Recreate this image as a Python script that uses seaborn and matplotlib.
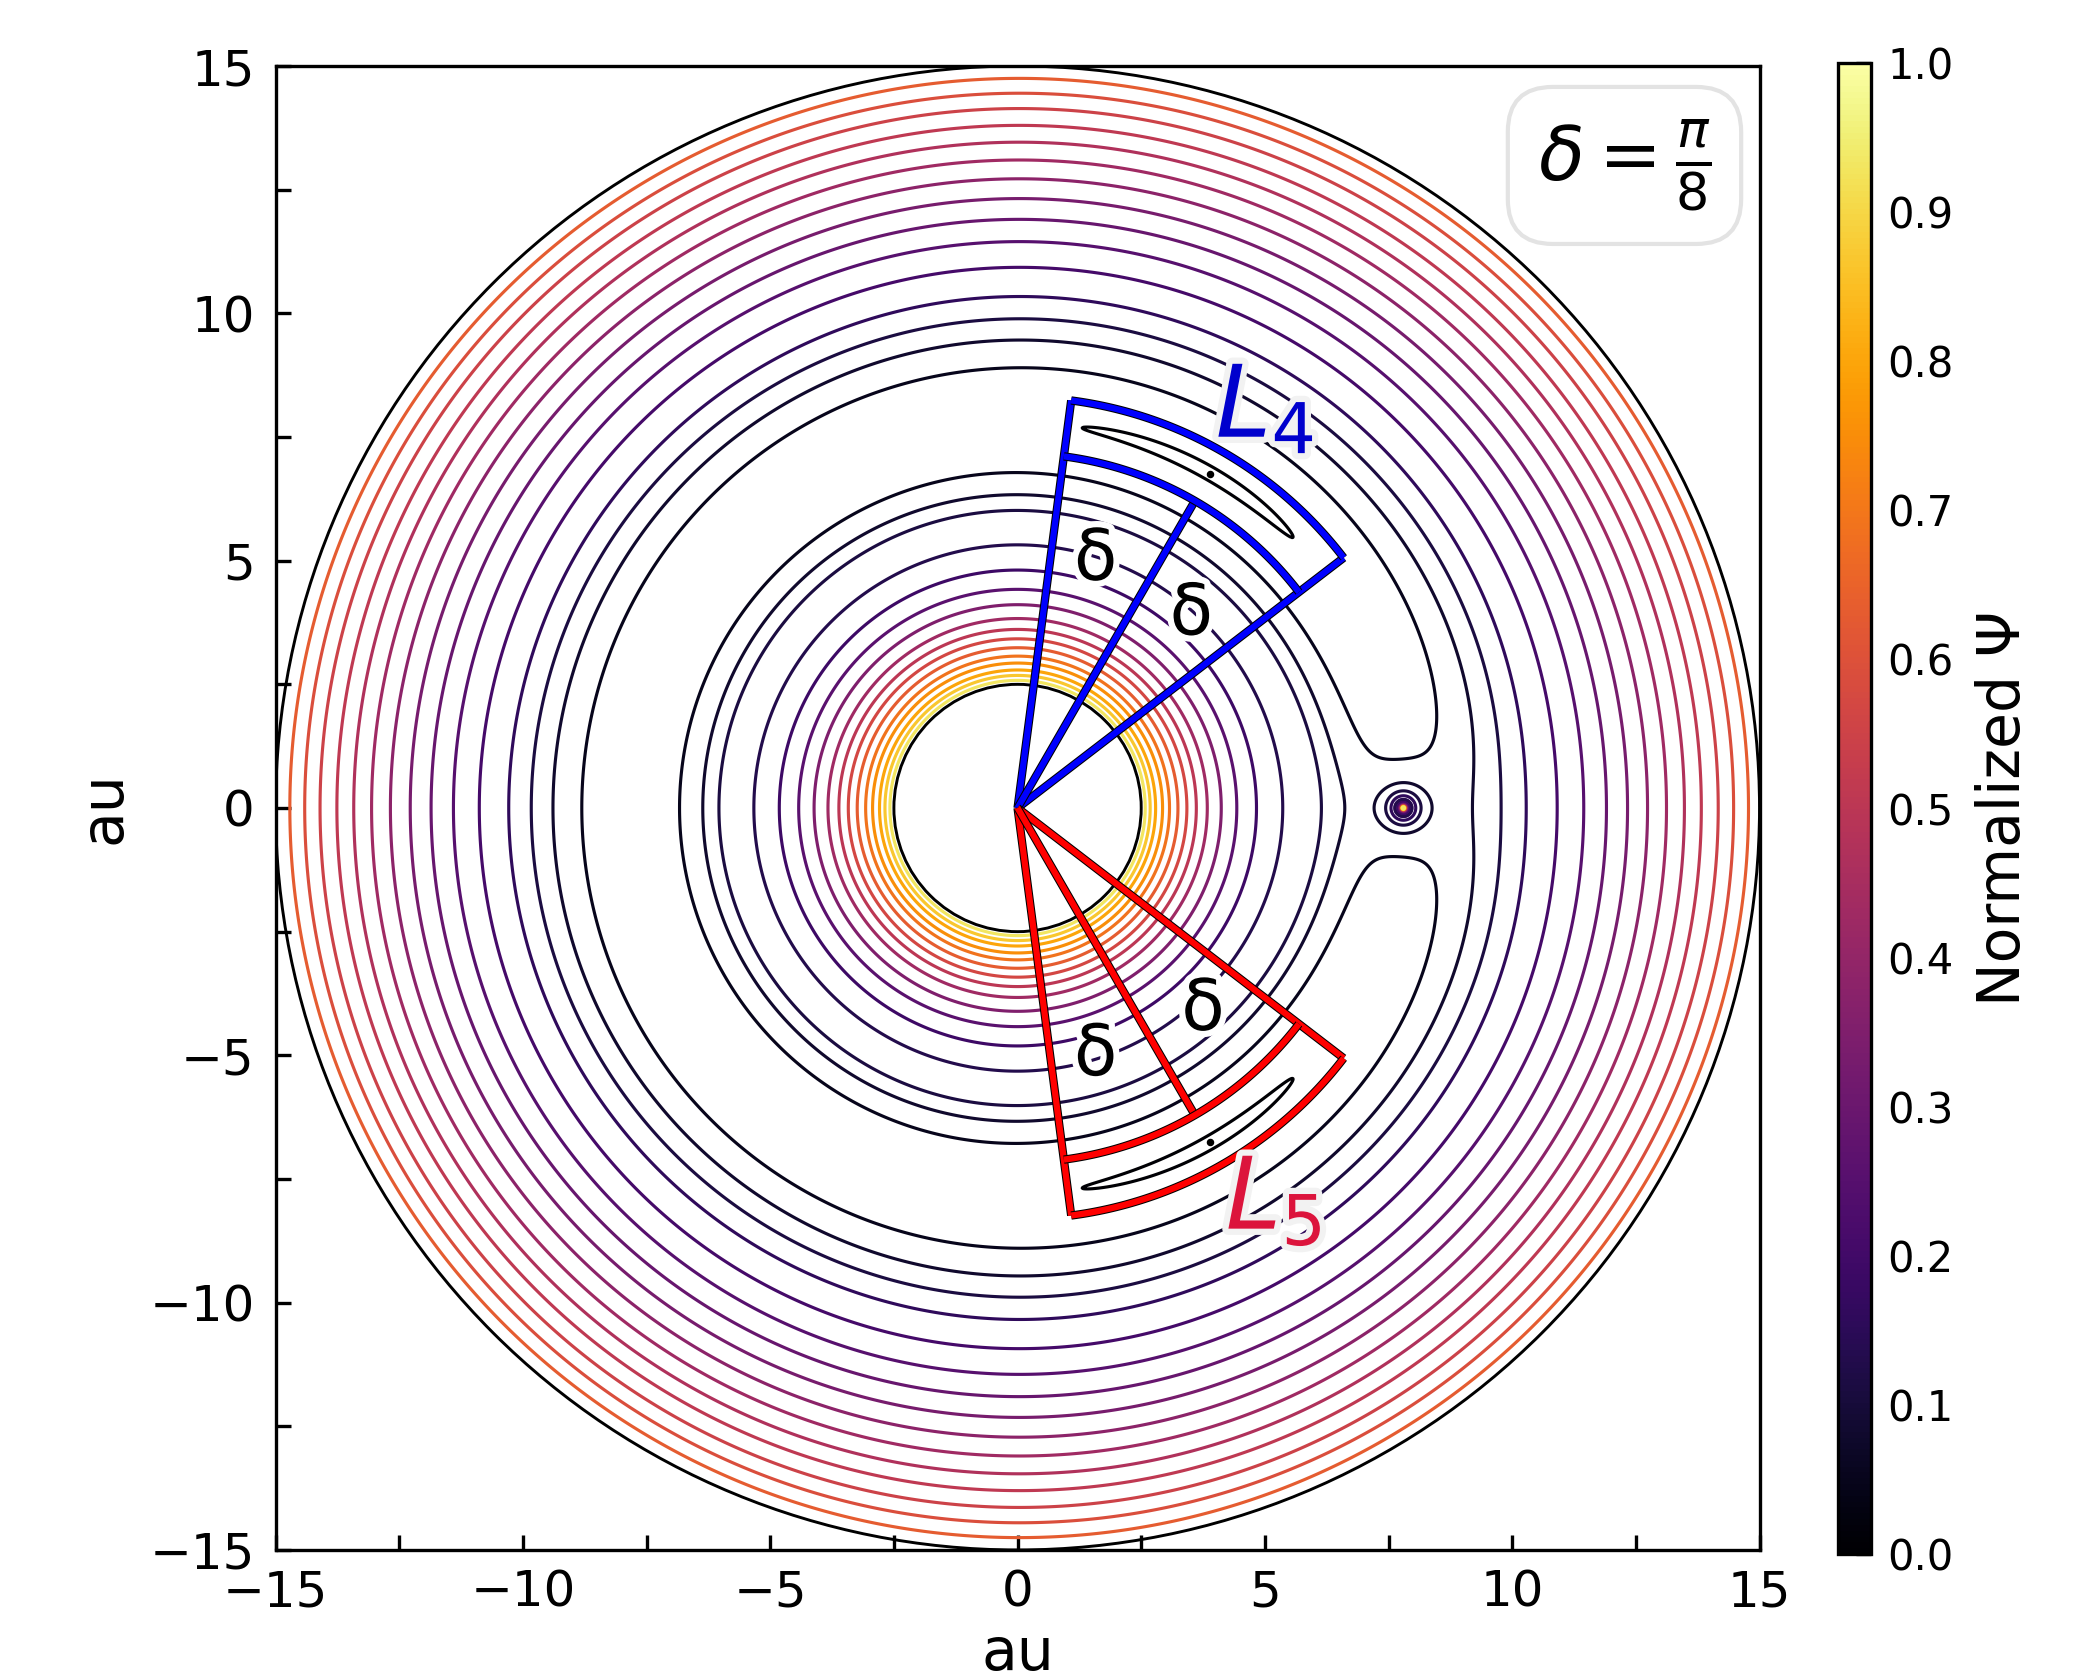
import numpy as np
import matplotlib
matplotlib.use("Agg")
import matplotlib.pyplot as plt
import matplotlib.patheffects as pe
from matplotlib.patches import Circle
from matplotlib.colors import Normalize
from matplotlib.cm import ScalarMappable
import seaborn as sns

# ---- system (au, GM_star = 1) ----
a_planet = 7.8
q_planet = 4.5e-3
r_in_edge = 2.5
r_out_edge = 15.0

# radii where the contours cross the +y axis and their colour
shared_radii = [8.90, 9.46, 9.89]
shared_shade = [0.05, 0.08, 0.11]
outer_radii = [10.34, 10.93, 11.45, 11.90, 12.32, 12.72, 13.10, 13.46, 13.80, 14.14, 14.45, 14.75]
outer_shade = [0.16, 0.21, 0.25, 0.29, 0.33, 0.38, 0.43, 0.47, 0.51, 0.55, 0.59, 0.63]
inner_radii = [5.32, 4.81, 4.42, 4.11, 3.83, 3.61, 3.42, 3.24, 3.07, 2.93, 2.79, 2.68, 2.58]
inner_shade = [0.13, 0.19, 0.26, 0.35, 0.43, 0.50, 0.57, 0.63, 0.69, 0.75, 0.80, 0.87, 0.93]
tadpole_tip_deg = 44.5

# ---- Lagrange wedges ----
lagrange_names = [r'$L_4$', r'$L_5$']
lagrange_deg = [60.0, -60.0]
wedge_colors = ['#0000ff', '#ff0000']
label_colors = ['#0000cd', '#dc143c']
label_xy = [(5.0, 8.06), (5.18, -7.95)]
delta = np.pi / 8
wedge_r = [7.17, 8.31]
delta_r = [[5.25, 5.25], [5.25, 5.55]]
delta_deg = [[72.5, 48.0], [-72.5, -47.5]]

cbar_ticks = [0.0, 0.1, 0.2, 0.3, 0.4, 0.5, 0.6, 0.7, 0.8, 0.9, 1.0]
ax_ticks = [-15, -10, -5, 0, 5, 10, 15]


def psi(x, y):
    x_cm = q_planet * a_planet / (1 + q_planet)
    om2 = (1 + q_planet) / a_planet**3
    r = np.maximum(np.hypot(x, y), 1e-4)
    d = np.maximum(np.hypot(x - a_planet, y), 1e-4)
    return 1 / r + q_planet / d + 0.5 * om2 * ((x - x_cm)**2 + y**2)


sns.set_theme(style="white", rc={
    "axes.edgecolor": "black", "text.color": "black", "axes.labelcolor": "black",
    "xtick.color": "black", "ytick.color": "black", "axes.linewidth": 0.8,
})
plt.rcParams['font.family'] = ['DejaVu Sans']
plt.rcParams['mathtext.fontset'] = 'dejavusans'
cmap = sns.color_palette("inferno", as_cmap=True)

fig = plt.figure(figsize=(7, 5.6), dpi=300)
ax = fig.add_axes([0.131, 0.0774, 0.7071, 0.8833])
cax = fig.add_axes([0.8752, 0.075, 0.0157, 0.8875])

g = np.linspace(-15, 15, 2400)
X, Y = np.meshgrid(g, g)
R = np.hypot(X, Y)
D = np.hypot(X - a_planet, Y)
P = psi(X, Y)
domain = (R >= r_in_edge) & (R <= r_out_edge)

tip = np.deg2rad(tadpole_tip_deg)
lev_tad = psi(a_planet * np.cos(tip), a_planet * np.sin(tip))
lev_shared = [lev_tad] + [psi(0.0, r) for r in shared_radii]
col_shared = [cmap(0.0)] + [cmap(v) for v in shared_shade]
lev_outer = [psi(0.0, r) for r in outer_radii]
lev_inner = [psi(0.0, r) for r in inner_radii]

lw_c = 0.75
ax.contour(X, Y, np.where(domain, P, np.nan), levels=lev_shared,
           colors=col_shared, linewidths=lw_c)
ax.contour(X, Y, np.where(domain & (R > 7.0), P, np.nan), levels=lev_outer,
           colors=[cmap(v) for v in outer_shade], linewidths=lw_c)
ax.contour(X, Y, np.where(domain & ((R < 7.0) | (D < 0.5)), P, np.nan), levels=lev_inner,
           colors=[cmap(v) for v in inner_shade], linewidths=lw_c)

ax.add_patch(Circle((0, 0), r_in_edge, fill=False, ec='black', lw=0.7))
ax.add_patch(Circle((0, 0), r_out_edge, fill=False, ec='black', lw=0.7))

# wedges around L4 / L5
wedge_fx = [pe.Stroke(linewidth=2.0, foreground='black'), pe.Normal()]
for name, th0, wc, lc, lxy, dr, dd in zip(lagrange_names, lagrange_deg, wedge_colors,
                                          label_colors, label_xy, delta_r, delta_deg):
    t0 = np.deg2rad(th0)
    kw = dict(color=wc, lw=1.5, path_effects=wedge_fx, solid_capstyle='butt', zorder=5)
    for t in (t0 - delta, t0 + delta):
        ax.plot([0, wedge_r[1] * np.cos(t)], [0, wedge_r[1] * np.sin(t)], **kw)
    ax.plot([0, wedge_r[0] * np.cos(t0)], [0, wedge_r[0] * np.sin(t0)], **kw)
    arc = np.linspace(t0 - delta, t0 + delta, 120)
    for rr in wedge_r:
        ax.plot(rr * np.cos(arc), rr * np.sin(arc), **kw)
    ax.plot(a_planet * np.cos(t0), a_planet * np.sin(t0), 'o', color='black', ms=0.8, zorder=4)
    ax.text(lxy[0], lxy[1], name, color=lc, fontsize=24, ha='center', va='center', zorder=6,
            path_effects=[pe.withStroke(linewidth=3, foreground='#f2f2f2')])
    for rr, dg in zip(dr, dd):
        t = np.deg2rad(dg)
        ax.text(rr * np.cos(t), rr * np.sin(t), 'δ', fontsize=17, ha='center', va='center',
                zorder=6, path_effects=[pe.withStroke(linewidth=3, foreground='white')])

ax.text(0.909, 0.933, r'$\delta = \frac{\pi}{8}$', transform=ax.transAxes, fontsize=18,
        ha='center', va='center', zorder=7,
        bbox=dict(boxstyle='round,pad=0.4,rounding_size=0.6', fc='white', ec='#e3e3e3', lw=1.0))

ax.set_xlim(-15, 15)
ax.set_ylim(-15, 15)
ax.set_aspect('equal')
ax.set_xticks(ax_ticks)
ax.set_yticks(ax_ticks)
ax.set_xticks(np.arange(-12.5, 15, 5), minor=True)
ax.set_yticks(np.arange(-12.5, 15, 5), minor=True)
ax.tick_params(which='both', direction='in', length=3.5, width=0.8, labelsize=12,
               top=False, right=False, left=True, bottom=True)
ax.tick_params(axis='x', pad=4.5)
ax.tick_params(axis='y', pad=5)
ax.set_xlabel('au', fontsize=14, labelpad=2)
ax.set_ylabel('au', fontsize=14, labelpad=4)

sm = ScalarMappable(norm=Normalize(0, 1), cmap=cmap)
cb = fig.colorbar(sm, cax=cax, ticks=cbar_ticks)
cb.ax.tick_params(direction='in', length=3.5, width=0.8, labelsize=10, pad=4)
cb.outline.set_linewidth(0.8)
cb.set_label('Normalized Ψ', fontsize=14, labelpad=5)

fig.savefig('out.png', dpi=300)
